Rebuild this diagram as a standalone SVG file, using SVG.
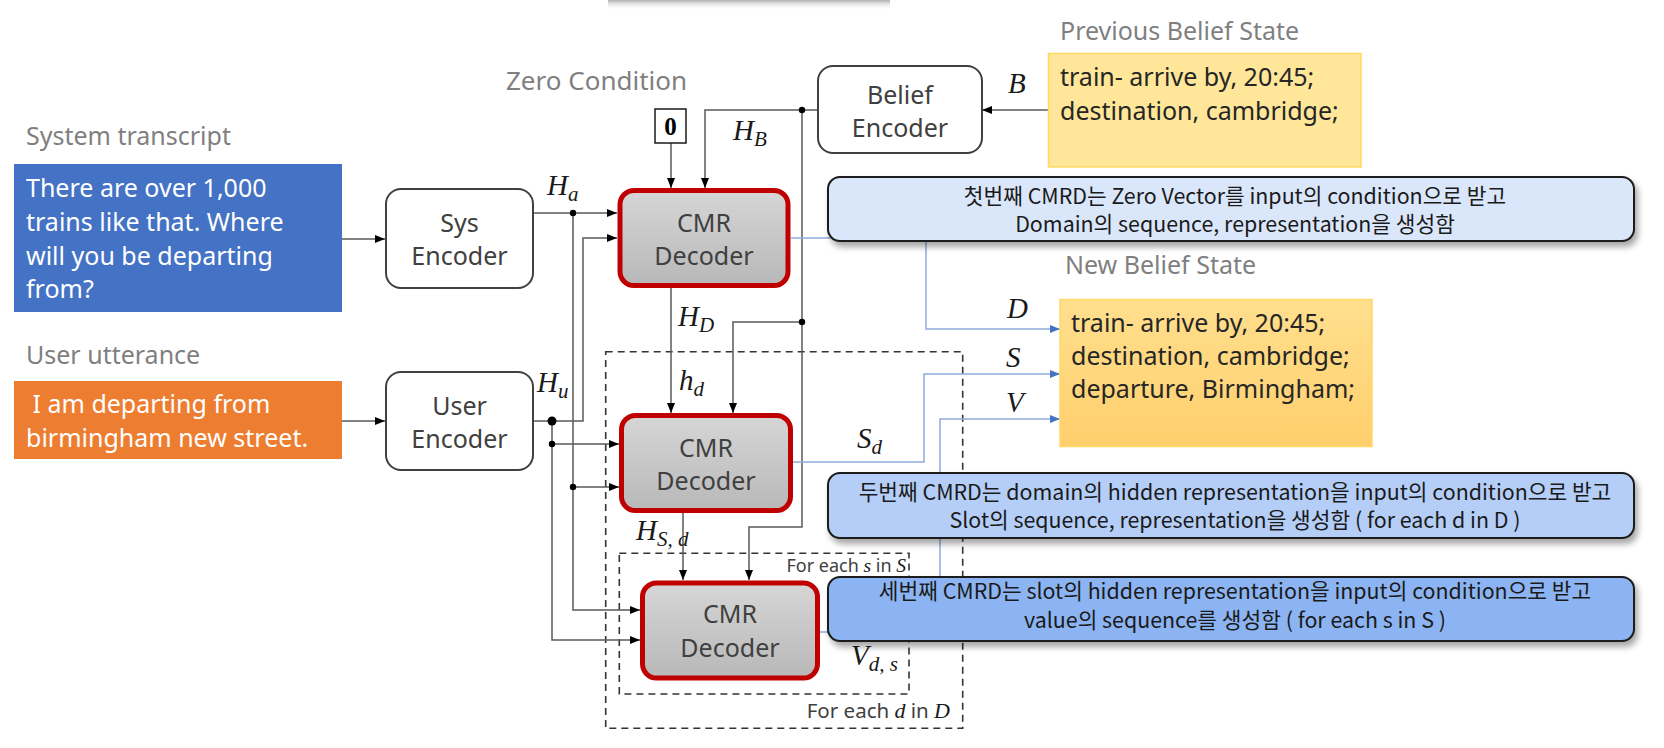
<svg xmlns="http://www.w3.org/2000/svg" width="1664" height="748" viewBox="0 0 1664 748">
<defs>
<style>
.ln{fill:none;stroke:#595959;stroke-width:1.5}
.bl{fill:none;stroke:#8FAADC;stroke-width:1.5}
.enc{fill:#fff;stroke:#404040;stroke-width:2}
.dec{fill:url(#gdec);stroke:#C00000;stroke-width:5}
.dash{fill:none;stroke:#333;stroke-width:1.6;stroke-dasharray:7 5}
.t{font-family:"Noto Sans","Liberation Sans",sans-serif;fill:#404040;font-size:25px}
.c{text-anchor:middle}
.lbl{fill:#7F7F7F}
.w{fill:#fff}
.m{font-family:"Liberation Serif","DejaVu Serif",serif;font-style:italic;fill:#1a1a1a;font-size:29px}
.sub{font-size:21px}
.k{font-family:"Noto Sans CJK KR","Noto Sans",sans-serif;font-size:21.4px;fill:#1a1a1a;text-anchor:middle}
.co{stroke:#1a1a1a;stroke-width:2;filter:url(#sh)}
.dot{fill:#000}
.y{fill:#262626;font-size:25px}
</style>
<linearGradient id="gdec" x1="0" y1="0" x2="0" y2="1"><stop offset="0" stop-color="#D6D6D6"/><stop offset="1" stop-color="#B8B8B8"/></linearGradient>
<linearGradient id="gnew" x1="0" y1="0" x2="0" y2="1"><stop offset="0" stop-color="#FFDF8E"/><stop offset="1" stop-color="#FFCF6C"/></linearGradient>
<linearGradient id="gtop" x1="0" y1="0" x2="0" y2="1"><stop offset="0" stop-color="#b0b0b0"/><stop offset="1" stop-color="#ffffff" stop-opacity="0"/></linearGradient>
<filter id="sh" x="-5%" y="-20%" width="110%" height="150%"><feDropShadow dx="3" dy="5" stdDeviation="3" flood-color="#000" flood-opacity="0.35"/></filter>
<marker id="ah" markerUnits="userSpaceOnUse" markerWidth="10" markerHeight="8" refX="10" refY="4" orient="auto"><path d="M0,0 L10,4 L0,8 z" fill="#000"/></marker>
<marker id="ab" markerUnits="userSpaceOnUse" markerWidth="10" markerHeight="8" refX="10" refY="4" orient="auto"><path d="M0,0 L10,4 L0,8 z" fill="#4472C4"/></marker>
</defs>
<rect width="1664" height="748" fill="#fff"/>
<rect x="608" y="0" width="282" height="10" fill="url(#gtop)"/>

<!-- dashed loops -->
<g id="loops">
<rect class="dash" x="605.7" y="351.7" width="357" height="376.6"/>
<rect class="dash" x="619.3" y="553.3" width="289.7" height="140.7"/>
<text class="t" x="950" y="718" text-anchor="end" style="font-size:20.5px">For each <tspan class="m" style="font-size:22px">d</tspan> in <tspan class="m" style="font-size:22px">D</tspan></text>
<text class="t" x="906" y="572" text-anchor="end" style="font-size:18px">For each <tspan class="m" style="font-size:19.5px">s</tspan> in <tspan class="m" style="font-size:19.5px">S</tspan></text>
</g>

<!-- connectors -->
<g id="connectors">
<path class="ln" d="M342,239 H385" marker-end="url(#ah)"/>
<path class="ln" d="M342,421 H385" marker-end="url(#ah)"/>
<path class="ln" d="M533,213 H617" marker-end="url(#ah)"/>
<path class="ln" d="M573,213 V610 H640" marker-end="url(#ah)"/>
<path class="ln" d="M573,487 H619" marker-end="url(#ah)"/>
<path class="ln" d="M533,421 H583 V238 H617" marker-end="url(#ah)"/>
<path class="ln" d="M552,421 V640 H640" marker-end="url(#ah)"/>
<path class="ln" d="M552,444 H619" marker-end="url(#ah)"/>
<path class="ln" d="M671,143 V188" marker-end="url(#ah)"/>
<path class="ln" d="M818,110 H705 V188" marker-end="url(#ah)"/>
<path class="ln" d="M802,110 V527 H749 V580" marker-end="url(#ah)"/>
<path class="ln" d="M802,322 H733 V413" marker-end="url(#ah)"/>
<path class="ln" d="M671,288 V413" marker-end="url(#ah)"/>
<path class="ln" d="M683,513 V580" marker-end="url(#ah)"/>
<path class="ln" d="M1048,110 H982" marker-end="url(#ah)"/>
<path class="bl" d="M791,238 H926 V329 H1060" marker-end="url(#ab)"/>
<path class="bl" d="M793,462 H924 V374 H1060" marker-end="url(#ab)"/>
<path class="bl" d="M820,632 H940 V419 H1060" marker-end="url(#ab)"/>
<circle class="dot" cx="573" cy="213" r="3.2"/>
<circle class="dot" cx="552" cy="421" r="4.5"/>
<circle class="dot" cx="552" cy="444" r="3.2"/>
<circle class="dot" cx="573" cy="487" r="3.2"/>
<circle class="dot" cx="802" cy="110" r="3.2"/>
<circle class="dot" cx="802" cy="322" r="3.2"/>
<text class="m" x="547" y="195">H<tspan class="sub" dy="6">a</tspan></text>
<text class="m" x="537" y="392">H<tspan class="sub" dy="6">u</tspan></text>
<text class="m" x="733" y="140">H<tspan class="sub" dy="6">B</tspan></text>
<text class="m" x="678" y="326">H<tspan class="sub" dy="6">D</tspan></text>
<text class="m" x="679" y="390">h<tspan class="sub" dy="6">d</tspan></text>
<text class="m" x="857" y="448">S<tspan class="sub" dy="6">d</tspan></text>
<text class="m" x="636" y="540">H<tspan class="sub" dy="6">S, d</tspan></text>
<text class="m" x="851" y="665">V<tspan class="sub" dy="6">d, s</tspan></text>
<text class="m" x="1007" y="318">D</text>
<text class="m" x="1006" y="367">S</text>
<text class="m" x="1006" y="412">V</text>
<text class="m" x="1008" y="93">B</text>
</g>

<!-- inputs -->
<g id="sys-transcript">
<text class="t lbl" x="26" y="145">System transcript</text>
<rect x="14" y="164" width="328" height="148" fill="#4472C4"/>
<text class="t w" x="26" y="197">There are over 1,000</text>
<text class="t w" x="26" y="231">trains like that. Where</text>
<text class="t w" x="26" y="265">will you be departing</text>
<text class="t w" x="26" y="298">from?</text>
</g>
<g id="user-utterance">
<text class="t lbl" x="26" y="364">User utterance</text>
<rect x="14" y="381" width="328" height="78" fill="#ED7D31"/>
<text class="t w" x="26" y="413" xml:space="preserve"> I am departing from</text>
<text class="t w" x="26" y="447">birmingham new street.</text>
</g>

<g id="sys-encoder">
<rect class="enc" x="386" y="189" width="147" height="99" rx="15"/>
<text class="t c" x="459.5" y="232">Sys</text>
<text class="t c" x="459.5" y="265">Encoder</text>
</g>
<g id="user-encoder">
<rect class="enc" x="386" y="372" width="147" height="98" rx="15"/>
<text class="t c" x="459.5" y="415">User</text>
<text class="t c" x="459.5" y="448">Encoder</text>
</g>
<g id="belief-encoder">
<rect class="enc" x="818" y="66" width="164" height="87" rx="15"/>
<text class="t c" x="900" y="104">Belief</text>
<text class="t c" x="900" y="137">Encoder</text>
</g>

<g id="zero-condition">
<text class="t lbl" x="506" y="90" style="font-size:26px">Zero Condition</text>
<rect x="655" y="109" width="31" height="34" fill="#fff" stroke="#1a1a1a" stroke-width="1.5"/>
<text x="670.5" y="135" text-anchor="middle" style="font-family:'Liberation Serif',serif;font-weight:bold;font-size:25px;fill:#000">0</text>
</g>

<g id="decoder-1">
<rect class="dec" x="620" y="190.5" width="168" height="95" rx="14"/>
<text class="t c" x="704" y="232">CMR</text>
<text class="t c" x="704" y="265">Decoder</text>
</g>
<g id="decoder-2">
<rect class="dec" x="621.5" y="415.5" width="169" height="95" rx="14"/>
<text class="t c" x="706" y="457">CMR</text>
<text class="t c" x="706" y="490">Decoder</text>
</g>
<g id="decoder-3">
<rect class="dec" x="642.5" y="583" width="175" height="95" rx="14"/>
<text class="t c" x="730" y="623">CMR</text>
<text class="t c" x="730" y="657">Decoder</text>
</g>

<g id="previous-belief">
<text class="t lbl" x="1060" y="40">Previous Belief State</text>
<rect x="1048.5" y="53.5" width="312.5" height="113.5" fill="#FFE699" stroke="#FFD966" stroke-width="1.5"/>
<text class="t y" x="1060" y="86">train- arrive by, 20:45;</text>
<text class="t y" x="1060" y="120">destination, cambridge;</text>
</g>
<g id="new-belief">
<text class="t lbl" x="1065" y="274">New Belief State</text>
<rect x="1060" y="299.5" width="312" height="147" fill="url(#gnew)" stroke="#FFD966" stroke-width="1.5"/>
<text class="t y" x="1071" y="332">train- arrive by, 20:45;</text>
<text class="t y" x="1071" y="365">destination, cambridge;</text>
<text class="t y" x="1071" y="398">departure, Birmingham;</text>
</g>

<g id="callout-1">
<rect class="co" x="828" y="177" width="806" height="64" rx="12" fill="#DAE7FA"/>
<text class="k" x="1235" y="204">첫번째 CMRD는 Zero Vector를 input의 condition으로 받고</text>
<text class="k" x="1235" y="232">Domain의 sequence, representation을 생성함</text>
</g>
<g id="callout-2">
<rect class="co" x="828" y="473" width="806" height="65" rx="12" fill="#B4CEF7"/>
<text class="k" x="1235" y="500">두번째 CMRD는 domain의 hidden representation을 input의 condition으로 받고</text>
<text class="k" x="1235" y="528">Slot의 sequence, representation을 생성함 ( for each d in D )</text>
</g>
<g id="callout-3">
<rect class="co" x="828" y="577" width="806" height="64" rx="12" fill="#8CB4F2"/>
<text class="k" x="1235" y="599">세번째 CMRD는 slot의 hidden representation을 input의 condition으로 받고</text>
<text class="k" x="1235" y="628">value의 sequence를 생성함 ( for each s in S )</text>
</g>
</svg>
